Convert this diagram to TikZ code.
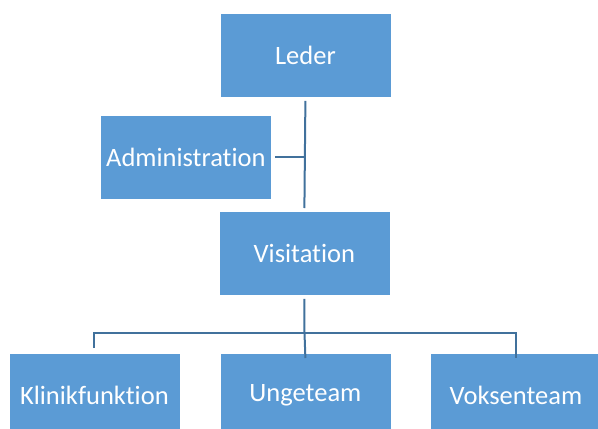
\documentclass[tikz,border=0pt]{standalone}
\usepackage{fontspec}
\setmainfont[Ligatures=NoCommon]{Carlito}
\definecolor{boxfill}{HTML}{5B9BD5}
\definecolor{linec}{HTML}{41719C}
\begin{document}
\begin{tikzpicture}[x=1pt,y=-1pt,
  orgbox/.style={draw=white, line width=0.8pt, fill=boxfill, text=white,
    minimum width=171pt, minimum height=84pt, inner sep=0pt,
    font=\fontsize{26.5}{30}\selectfont, anchor=north west},
  conn/.style={draw=linec, line width=2pt}]
\useasboundingbox (0,0) rectangle (598,429);
\clip (0,0) rectangle (598,429);
\node[orgbox] (leder) at (219.5,13) {Leder};
\node[orgbox] (admin) at (100,115) {Administration};
\node[orgbox] (visit) at (218.5,211) {Visitation};
\node[orgbox] (klinik) at (8.5,353) {Klinikfunktion};
\node[orgbox] (unge) at (219.5,353) {Ungeteam};
\node[orgbox] (voksen) at (430,353) {Voksenteam};
\coordinate (bus) at (304.5,333);
\draw[conn] ([yshift=-3pt]leder.south) -- ([yshift=3pt]visit.north);
\draw[conn] ([xshift=3pt]admin.east) -- (admin.east -| leder.south);
\draw[conn] ([yshift=-3pt]visit.south) -- (bus);
\draw[conn] (klinik.north) ++(0,-5) |- (bus) -| ([yshift=-5pt]voksen.north);
\draw[conn] (bus) -- ([yshift=-5pt]unge.north);
\end{tikzpicture}
\end{document}
